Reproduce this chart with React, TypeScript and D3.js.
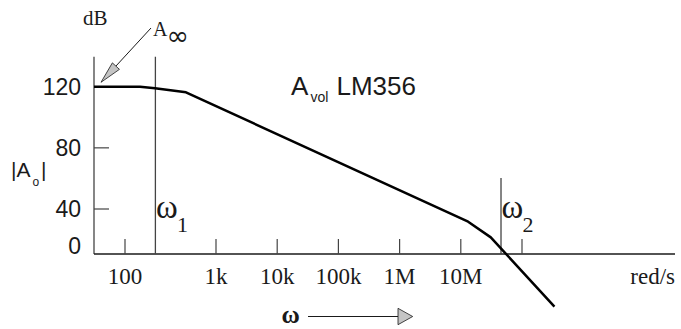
import React from 'react';
import * as d3 from 'd3';

const W = 681;
const H = 329;

// x values are log10(rad/s)
const xTickLogs = [2, 3, 4, 5, 6, 7, 8];
const xTickLabels = ['100', '1k', '10k', '100k', '1M', '10M', ''];
const yTicks = [0, 40, 80, 120];
const yTickLabels = ['0', '40', '80', '120'];
const yTickMarks = [40, 80];

// open-loop gain curve (log10 rad/s, dB)
const curveLog = [1.66, 2.165, 2.33, 2.67, 7.12, 7.49, 8.53];
const curveDb = [120, 120, 119, 116.3, 28.7, 14.8, -46.8];

// corner frequency markers
const omegaLogs = [2.334, 7.657];
const omegaTopDb = [139.6, 60.3];
const omegaNames = ['1', '2'];

const axisTopDb = 139.6;
const axisEndLog = 10.5;

const SANS_N = '"Liberation Sans Narrow", "Liberation Sans", Arial, sans-serif';
const SANS = '"Liberation Sans", Arial, sans-serif';
const SERIF = '"Liberation Serif", "Times New Roman", serif';

export default function App() {
  const x = d3.scaleLinear().domain([1.66, 2, 3, axisEndLog]).range([94, 125, 216, 675]);
  const y = d3.scaleLinear().domain([0, 40, 120]).range([254, 209, 86.7]);

  const line = d3
    .line<number>()
    .x((_, i) => x(curveLog[i]))
    .y((_, i) => y(curveDb[i]));
  const pathD = line(curveDb) || '';

  const x0 = x(curveLog[0]);
  const yBase = y(0);
  const ink = '#1a1a1a';
  const axisCol = '#444';

  // A-infinity arrow
  const aTip = [101, 82.3];
  const aStart = [151, 28];
  const dx = aStart[0] - aTip[0];
  const dy = aStart[1] - aTip[1];
  const len = Math.hypot(dx, dy);
  const ux = dx / len;
  const uy = dy / len;
  const hl = 22;
  const hw = 4.8;
  const bx = aTip[0] + ux * hl;
  const by = aTip[1] + uy * hl;
  const headPts = [
    [aTip[0], aTip[1]],
    [bx - uy * hw, by + ux * hw],
    [bx + uy * hw, by - ux * hw],
  ]
    .map((p) => p.join(','))
    .join(' ');

  return (
    <svg
      width={W}
      height={H}
      style={{ position: 'fixed', left: 0, top: 0, background: '#fff' }}
    >
      <rect x={0} y={0} width={W} height={H} fill="#fff" />

      {/* y axis */}
      <line x1={x0} x2={x0} y1={y(axisTopDb)} y2={yBase} stroke={axisCol} strokeWidth={1.3} />
      {/* x axis */}
      <line x1={x0} x2={x(axisEndLog)} y1={yBase} y2={yBase} stroke={ink} strokeWidth={1.5} />

      {/* x ticks */}
      {xTickLogs.map((v) => (
        <line key={'xt' + v} x1={x(v)} x2={x(v)} y1={yBase} y2={yBase - 15} stroke={axisCol} strokeWidth={1.2} />
      ))}
      {xTickLogs.map((v, i) => (
        <text
          key={'xl' + v}
          x={x(v)}
          y={284}
          textAnchor="middle"
          fontFamily={SERIF}
          fontSize={23}
          fill={ink}
        >
          {xTickLabels[i]}
        </text>
      ))}
      <text x={x(axisEndLog)} y={284} textAnchor="end" fontFamily={SERIF} fontSize={23} fill={ink}>
        red/s
      </text>

      {/* y ticks */}
      {yTickMarks.map((v) => (
        <line key={'yt' + v} x1={x0} x2={x0 + 15} y1={y(v)} y2={y(v)} stroke={axisCol} strokeWidth={1.2} />
      ))}
      {yTicks.map((v, i) => (
        <text
          key={'yl' + v}
          x={81}
          y={v === 0 ? yBase : y(v) + 8.3}
          textAnchor="end"
          fontFamily={SANS_N}
          fontSize={23}
          fill={ink}
        >
          {yTickLabels[i]}
        </text>
      ))}

      {/* omega lines */}
      {omegaLogs.map((v, i) => (
        <g key={'om' + i}>
          <line x1={x(v)} x2={x(v)} y1={y(omegaTopDb[i])} y2={yBase} stroke={axisCol} strokeWidth={1.3} />
          <text x={x(v) + 0.5} y={218} fontFamily={SERIF} fontSize={33} fill={ink}>
            ω
          </text>
          <text x={x(v) + 21.5} y={231.5} fontFamily={SERIF} fontSize={22} fill={ink}>
            {omegaNames[i]}
          </text>
        </g>
      ))}

      {/* curve */}
      <path d={pathD} fill="none" stroke="#000" strokeWidth={2.5} strokeLinejoin="round" />

      {/* dB label */}
      <text x={83} y={25} fontFamily={SERIF} fontSize={21} fill={ink}>
        dB
      </text>

      {/* A infinity */}
      <text x={153} y={35.5} fontFamily={SERIF} fontSize={20} fill={ink}>
        A
      </text>
      <text x={166.5} y={44.5} fontFamily={'"DejaVu Sans", sans-serif'} fontSize={27} fill={ink}>
        ∞
      </text>
      <line x1={aStart[0]} y1={aStart[1]} x2={bx} y2={by} stroke={ink} strokeWidth={1} />
      <polygon points={headPts} fill="#c4c4c4" stroke={ink} strokeWidth={0.8} />

      {/* |Ao| */}
      <text x={11} y={177} fontFamily={SANS_N} fontSize={21} fill={ink}>
        |A
      </text>
      <text x={32.5} y={186} fontFamily={SANS} fontSize={12} fill={ink}>
        o
      </text>
      <text x={41} y={177} fontFamily={SANS_N} fontSize={21} fill={ink}>
        |
      </text>

      {/* title */}
      <text x={291} y={95.3} fontFamily={SANS} fontSize={26} fill={ink}>
        A
      </text>
      <text x={310.5} y={102} fontFamily={SANS} fontSize={14} fill={ink}>
        vol
      </text>
      <text x={336.5} y={95.3} fontFamily={SANS} fontSize={26} fill={ink}>
        LM356
      </text>

      {/* omega arrow */}
      <text x={281.5} y={323} fontFamily={SERIF} fontSize={25} fontWeight="bold" fill={ink}>
        ω
      </text>
      <line x1={308} x2={398} y1={316.5} y2={316.5} stroke={ink} strokeWidth={1} />
      <polygon points="398,308.3 412.7,316.5 398,324.7" fill="#c4c4c4" stroke={ink} strokeWidth={0.8} />
    </svg>
  );
}
